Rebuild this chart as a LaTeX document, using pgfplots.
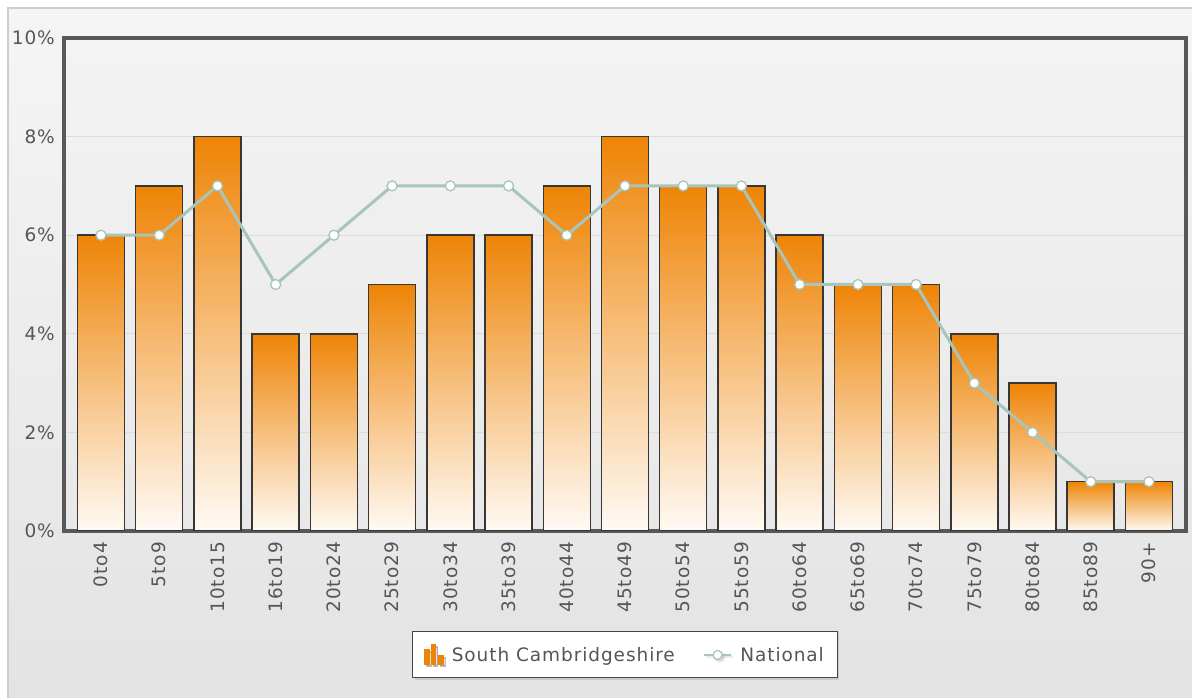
\documentclass[border=0pt]{standalone}
\usepackage{pgfplots}
\pgfplotsset{compat=1.18}
\usepackage{fontspec}
\setmainfont[LetterSpace=5]{DejaVu Sans}
\usetikzlibrary{shadows}
\definecolor{barorange}{RGB}{238,132,6}
\definecolor{barlight}{RGB}{255,250,244}
\definecolor{natline}{RGB}{168,196,187}
\definecolor{framegray}{RGB}{88,88,88}
\definecolor{txtgray}{RGB}{85,85,90}
\definecolor{gridgray}{RGB}{220,220,220}
\pgfplotsset{
  agebar/.style={ybar, bar width=47pt, bar shift=0pt, forget plot,
    draw={rgb,255:red,55;green,55;blue,55}, line width=1.5pt,
    shade, top color=barorange, bottom color=barlight}
}
\begin{document}
\begin{tikzpicture}
\path[use as bounding box] (0,0) rectangle (1192pt,698pt);
\fill[white] (0,0) rectangle (1192pt,698pt);
\shade[top color={rgb,255:red,245;green,245;blue,245}, bottom color={rgb,255:red,227;green,227;blue,227}] (8pt,0pt) rectangle (1192pt,690pt);
\draw[color={rgb,255:red,205;green,205;blue,205}, line width=1.5pt] (8pt,-1pt) -- (8pt,690pt) -- (1193pt,690pt);
\begin{axis}[
  at={(64pt,167pt)}, anchor=south west,
  scale only axis, width=1122pt, height=493pt,
  xmin=-0.636, xmax=18.636, ymin=0, ymax=10,
  axis background/.style={shade, top color={rgb,255:red,243;green,243;blue,243}, bottom color={rgb,255:red,232;green,232;blue,232}},
  axis line style={draw=framegray, line width=3.5pt},
  ymajorgrids, grid style={draw=gridgray, line width=1pt},
  major tick length=0pt,
  ytick={0,2,4,6,8,10},
  yticklabels={0\%,2\%,4\%,6\%,8\%,10\%},
  xtick={0,...,18},
  xticklabels={0to4,5to9,10to15,16to19,20to24,25to29,30to34,35to39,40to44,45to49,50to54,55to59,60to64,65to69,70to74,75to79,80to84,85to89,90+},
  tick label style={font=\fontsize{18.5}{22}\selectfont, text=txtgray},
  yticklabel style={anchor=east, inner sep=0pt, xshift=-9pt},
  xticklabel style={yshift=-11pt, rotate=90, anchor=east, inner sep=0pt},
  legend columns=2,
  legend cell align=left,
  legend style={at={(0.5,-0.2505)}, anchor=center, draw={rgb,255:red,70;green,70;blue,70}, line width=1.2pt, fill=white,
    drop shadow={shadow xshift=2pt, shadow yshift=-2pt, opacity=0.25},
    font=\fontsize{18.5}{22}\selectfont, text=txtgray, inner xsep=11.5pt, inner ysep=13pt,
    /tikz/every odd column/.append style={column sep=6pt},
    /tikz/every even column/.append style={column sep=26pt}},
]
\addplot[agebar] coordinates {(0,6)};
\addplot[agebar] coordinates {(1,7)};
\addplot[agebar] coordinates {(2,8)};
\addplot[agebar] coordinates {(3,4)};
\addplot[agebar] coordinates {(4,4)};
\addplot[agebar] coordinates {(5,5)};
\addplot[agebar] coordinates {(6,6)};
\addplot[agebar] coordinates {(7,6)};
\addplot[agebar] coordinates {(8,7)};
\addplot[agebar] coordinates {(9,8)};
\addplot[agebar] coordinates {(10,7)};
\addplot[agebar] coordinates {(11,7)};
\addplot[agebar] coordinates {(12,6)};
\addplot[agebar] coordinates {(13,5)};
\addplot[agebar] coordinates {(14,5)};
\addplot[agebar] coordinates {(15,4)};
\addplot[agebar] coordinates {(16,3)};
\addplot[agebar] coordinates {(17,1)};
\addplot[agebar] coordinates {(18,1)};
\addlegendimage{legend image code/.code={
    \fill[barorange] (0pt,-9pt) rectangle (4.5pt,5pt);
    \fill[barorange] (7pt,-9pt) rectangle (11pt,10pt);
    \fill[barorange] (13.5pt,-9pt) rectangle (18.5pt,-1pt);
  }}
\addlegendentry{South Cambridgeshire}
\addplot[color=natline, line width=3pt, mark=*, mark size=5pt, mark options={fill=white, draw=natline, line width=1.3pt},
  legend image code/.code={
    \draw[natline, line width=2.5pt] (0pt,0pt) -- (27pt,0pt);
    \draw[natline, fill=white, line width=1.2pt] (13.5pt,0pt) circle (4.5pt);
  }]
coordinates {(0,6) (1,6) (2,7) (3,5) (4,6) (5,7) (6,7) (7,7) (8,6) (9,7) (10,7) (11,7) (12,5) (13,5) (14,5) (15,3) (16,2) (17,1) (18,1)};
\addlegendentry{National}
\end{axis}
\end{tikzpicture}
\end{document}
